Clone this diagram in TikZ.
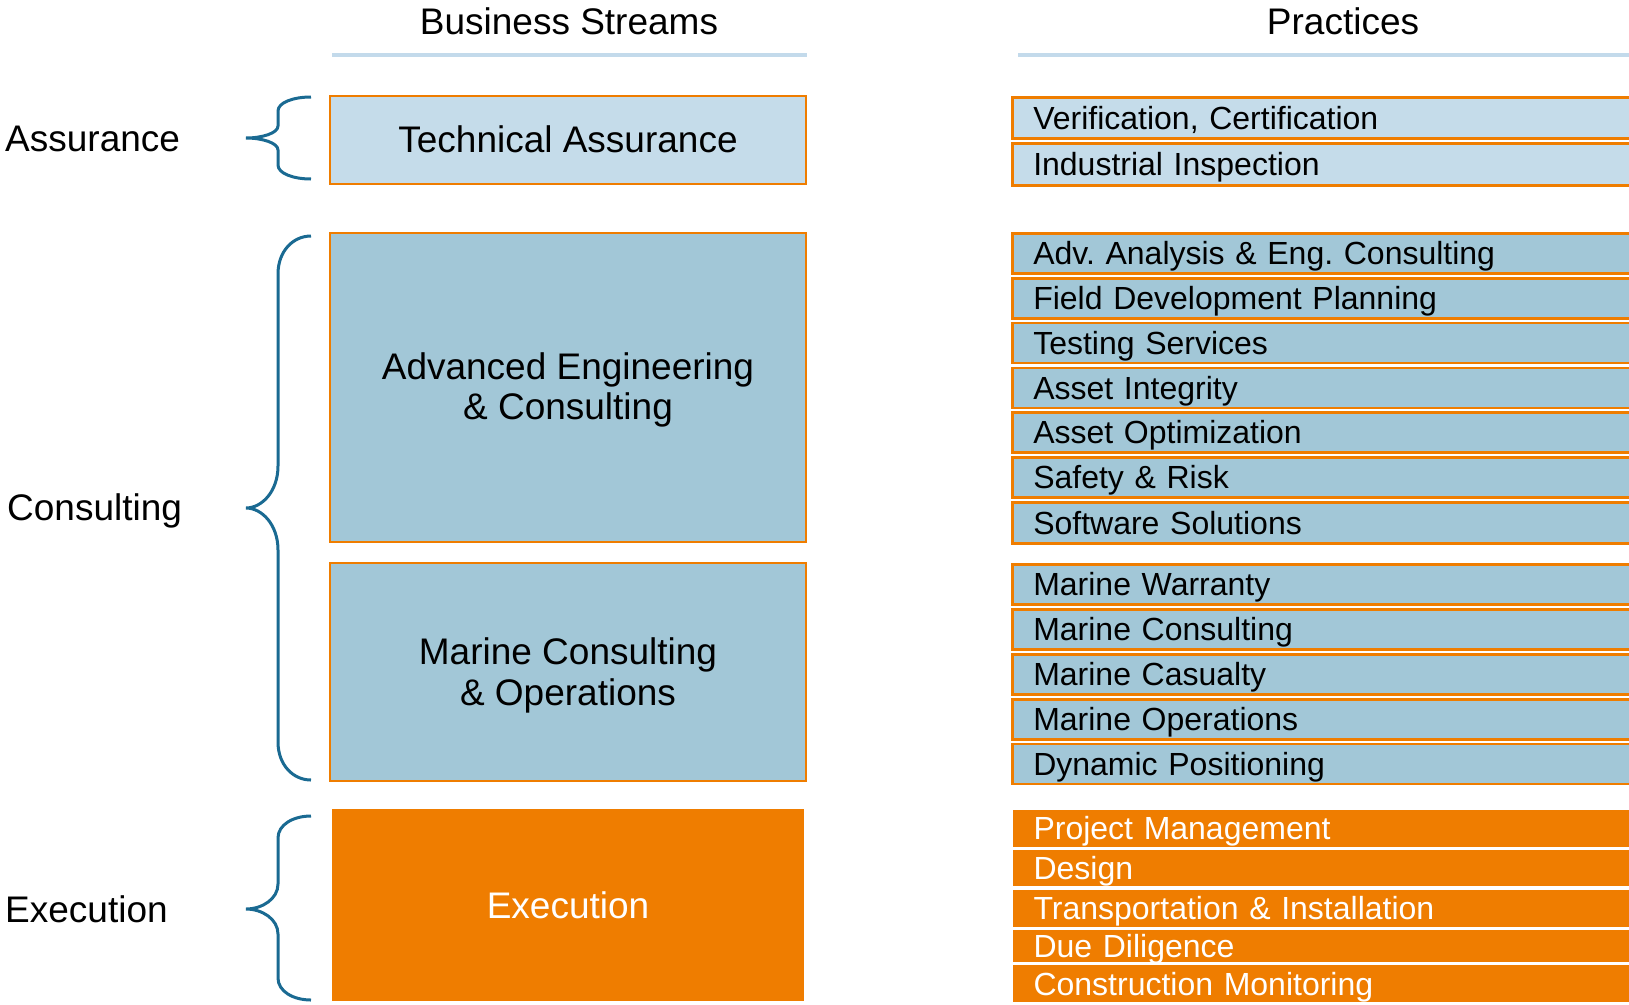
\documentclass[tikz,border=0pt]{standalone}
\usepackage{fontspec}
\setmainfont{Liberation Sans}
\frenchspacing
\definecolor{lblue}{HTML}{C5DCEA}
\definecolor{mblue}{HTML}{A2C7D7}
\definecolor{orng}{HTML}{EF7D00}
\definecolor{brc}{HTML}{1A6A92}
\definecolor{hline}{HTML}{C3DAEB}
\newcommand\mybrace[5]{%
  \draw[bracestyle] (311,#1) .. controls (293,#1) and (278,#1+0.4*#4) .. (278,#1+#4)
    -- (278,#2-#5) .. controls (278,#2-0.4*#5) and (262,#2) .. (246,#2)
    .. controls (262,#2) and (278,#2+0.4*#5) .. (278,#2+#5)
    -- (278,#3-#4) .. controls (278,#3-0.4*#4) and (293,#3) .. (311,#3);}
\begin{document}
\begin{tikzpicture}[x=1pt,y=-1pt,
  big/.style={font=\fontsize{37}{40}\selectfont},
  small/.style={font=\fontsize{32}{36}\selectfont},
  bracestyle/.style={draw=brc, line width=3pt},
  hdr/.style={draw=hline, line width=4pt},
  stream/.style={draw=orng, line width=2.5pt, big, align=center, inner sep=0pt, minimum width=476pt},
  stext/.style={big, align=center, inner sep=0pt},
  prac/.style={draw=orng, line width=2.5pt, small, anchor=north west, minimum width=640pt,
     text width=598pt, align=left, inner xsep=21pt, inner ysep=0pt, text height=23pt, text depth=0pt},
  bprac/.style={prac, fill=lblue},
  mprac/.style={prac, fill=mblue},
  oprac/.style={prac, draw=white, line width=1pt, fill=orng, text=white},
  grp/.style={big, anchor=west, inner sep=0pt}
]
\useasboundingbox (0,0) rectangle (1629,1004);
\clip (0,0) rectangle (1629,1004);

% headers
\node[big] (hbs) at (569,21) {Business Streams};
\node[big] (hpr) at (1343,21) {Practices};
\coordinate (l1a) at (332,55); \coordinate (l1b) at (807,55);
\coordinate (l2a) at (1018,55); \coordinate (l2b) at (1640,55);
\draw[hdr] (l1a) -- (l1b);
\draw[hdr] (l2a) -- (l2b);

% group labels
\node[grp] (gA) at (5,139) {Assurance};
\node[grp] (gC) at (7,511) {Consulting};
\node[grp] (gE) at (5,909) {Execution};

% braces
\mybrace{97}{138}{179}{14}{12}
\mybrace{236}{508}{780}{38}{42}
\mybrace{816}{909}{1000}{22}{25}

% business streams
\node[stream, fill=lblue, minimum height=88pt] (ta) at (568,140) {\raisebox{2pt}{Technical Assurance}};
\node[stream, fill=mblue, minimum height=309pt] (ae) at (568,387.5) {};
\node[stext] (aet) at (568,390) {Advanced Engineering\\[0.5pt]\& Consulting};
\node[stream, fill=mblue, minimum height=218pt] (mc) at (568,672) {};
\node[stext] (mct) at (568,675.5) {Marine Consulting\\[0.5pt]\& Operations};
\node[stream, draw=none, fill=orng, text=white, minimum width=472pt, minimum height=192pt] (ex) at (568,905) {Execution};

% practices
\node[bprac, minimum height=41pt] (p1) at (1011,96) {Verification, Certification};
\node[bprac, minimum height=42pt] (p2) at (1011,142) {Industrial Inspection};

\node[mprac, minimum height=40pt] (p3) at (1011,232) {Adv. Analysis \& Eng. Consulting};
\node[mprac, minimum height=40pt] (p4) at (1011,277) {Field Development Planning};
\node[mprac, minimum height=40pt] (p5) at (1011,321.5) {Testing Services};
\node[mprac, minimum height=40pt] (p6) at (1011,366.5) {Asset Integrity};
\node[mprac, minimum height=40pt] (p7) at (1011,411) {Asset Optimization};
\node[mprac, minimum height=40pt] (p8) at (1011,456) {Safety \& Risk};
\node[mprac, minimum height=41pt] (p9) at (1011,501) {Software Solutions};

\node[mprac, minimum height=40pt] (p10) at (1011,563) {Marine Warranty};
\node[mprac, minimum height=40pt] (p11) at (1011,608) {Marine Consulting};
\node[mprac, minimum height=40pt] (p12) at (1011,653) {Marine Casualty};
\node[mprac, minimum height=40pt] (p13) at (1011,698) {Marine Operations};
\node[mprac, minimum height=40pt] (p14) at (1011,742.5) {Dynamic Positioning};

\node[oprac, minimum height=38pt] (p15) at (1012,808.5) {Project Management};
\node[oprac, minimum height=37pt] (p16) at (1012,849) {Design};
\node[oprac, minimum height=38pt] (p17) at (1012,888.5) {Transportation \& Installation};
\node[oprac, minimum height=33pt] (p18) at (1012,929) {Due Diligence};
\node[oprac, minimum height=38pt] (p19) at (1012,964) {Construction Monitoring};
\end{tikzpicture}
\end{document}
